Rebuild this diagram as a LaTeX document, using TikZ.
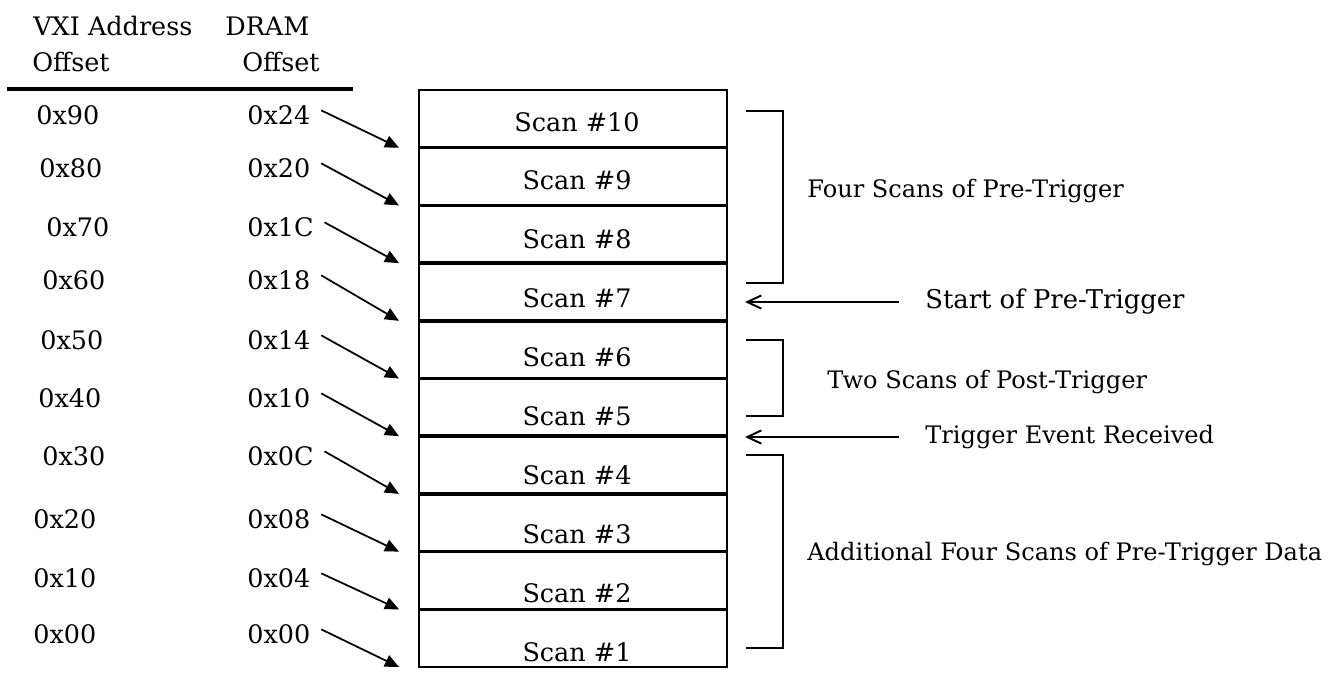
\documentclass[tikz,border=0pt]{standalone}
\usepackage{fontspec}
\setmainfont{DejaVu Serif}
\usetikzlibrary{arrows.meta}

\tikzset{
  lbl/.style={anchor=base west, inner sep=0pt, font=\fontsize{14.5}{17}\selectfont},
  note/.style={anchor=base west, inner sep=0pt, font=\fontsize{13.7}{16}\selectfont},
  scan/.style={anchor=base, inner sep=0pt, font=\fontsize{14.5}{17}\selectfont},
  ptr/.style={line width=1pt, -{Triangle[length=8pt,width=7pt]}},
  barb/.style={line width=1.1pt, -{Straight Barb[length=8pt,width=7.5pt]}},
  brace/.style={line width=1.4pt},
}

\begin{document}
\begin{tikzpicture}[x=0.02cm, y=-0.02cm]
\useasboundingbox (0,0) rectangle (1339,681);

% column headings
\node[lbl] (hvxi) at (33,35) {VXI Address};
\node[lbl] (hdram) at (225,35) {DRAM};
\node[lbl] (hoffa) at (32,71) {Offset};
\node[lbl] (hoffb) at (242,71) {Offset};
\draw[line width=2.4pt] (7,89) -- (353,89); % rule under headings

% scan buffer
\draw[line width=1.4pt] (419,90) rectangle (727,667);
\foreach \j in {1,...,9}
  \draw[line width=2pt] (419,{90+\j*57.7}) -- (727,{90+\j*57.7});
\foreach \k in {1,...,10}
  \node[scan] (s\k) at (577,{131+(10-\k)*58.9}) {Scan \#\k};

% offsets and pointers
\foreach \k/\va/\da/\vx/\b in {10/0x90/0x24/36/124, 9/0x80/0x20/39/177,
    8/0x70/0x1C/46/236, 7/0x60/0x18/42/289, 6/0x50/0x14/40/349,
    5/0x40/0x10/38/407, 4/0x30/0x0C/42/465, 3/0x20/0x08/33/528,
    2/0x10/0x04/33/587, 1/0x00/0x00/33/643} {
  \node[lbl] (v\k) at (\vx,\b) {\va};
  \node[lbl] (d\k) at (247,\b) {\da};
  \coordinate (t\k) at (399,{90+(11-\k)*57.7});
  \draw[ptr] ([xshift=6pt,yshift=2.5pt]d\k.east) -- (t\k);
}

% brackets
\draw[brace] (746,111) -- (783,111) -- (783,283) -- (746,283);
\draw[brace] (746,340) -- (783,340) -- (783,416) -- (746,416);
\draw[brace] (746,455) -- (783,455) -- (783,648) -- (746,648);

% notes
\node[note] (lfour) at (807,197) {Four Scans of Pre-Trigger};
\node[note, anchor=west, font=\fontsize{14.7}{17}\selectfont] (lstart) at (925,302) {Start of Pre-Trigger};
\node[note] (ltwo) at (827,388) {Two Scans of Post-Trigger};
\node[note, anchor=west] (ltrig) at (925,437) {Trigger Event Received};
\node[note] (ladd) at (807,560) {Additional Four Scans of Pre-Trigger Data};

\coordinate (pstart) at (745,302);
\coordinate (ptrig) at (745,437);
\draw[barb] ([xshift=-15pt]lstart.west) -- (pstart);
\draw[barb] ([xshift=-15pt]ltrig.west) -- (ptrig);
\end{tikzpicture}
\end{document}
